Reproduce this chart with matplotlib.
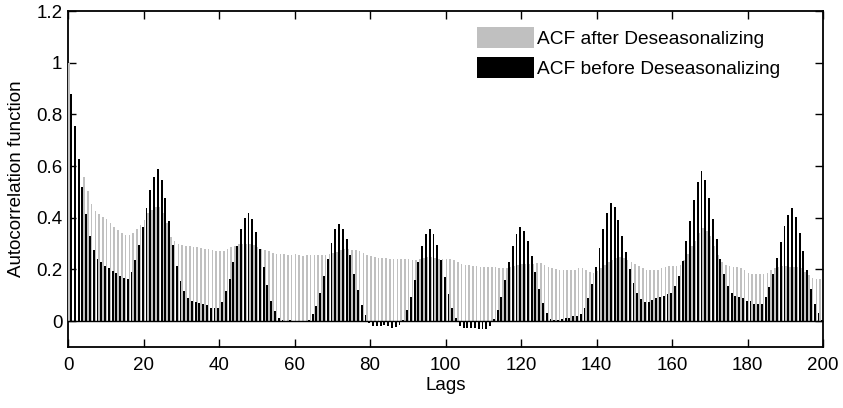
import numpy as np
import matplotlib
matplotlib.use("Agg")
import matplotlib.pyplot as plt
from matplotlib.ticker import FormatStrFormatter

nan = float('nan')

# ACF values, lags 0..200
acf_before = [
    1.0, 0.88, 0.757, 0.627, 0.518, 0.415, 0.329, 0.274, 0.24, 0.23,
    0.213, 0.207, 0.194, 0.186, 0.174, 0.166, 0.165, 0.192, 0.236, 0.294,
    0.365, 0.436, 0.507, 0.556, 0.587, 0.546, 0.475, 0.387, 0.294, 0.212,
    0.155, 0.116, 0.09, 0.077, 0.073, 0.072, 0.066, 0.061, 0.051, 0.05,
    0.05, 0.076, 0.116, 0.165, 0.23, 0.292, 0.355, 0.40, 0.42, 0.394,
    0.345, 0.28, 0.209, 0.138, 0.077, 0.04, 0.013, 0.006, 0.001, 0.006,
    0.0, 0.0, 0.0, 0.0, 0.006, 0.027, 0.06, 0.11, 0.175, 0.24,
    0.304, 0.355, 0.375, 0.356, 0.316, 0.257, 0.184, 0.12, 0.062, 0.022,
    -0.006, -0.017, -0.018, -0.018, -0.015, -0.018, -0.025, -0.022, -0.013, 0.006,
    0.045, 0.094, 0.159, 0.23, 0.29, 0.337, 0.358, 0.338, 0.294, 0.236,
    0.171, 0.104, 0.049, 0.011, -0.017, -0.025, -0.026, -0.026, -0.028, -0.03,
    -0.03, -0.029, -0.017, 0.008, 0.045, 0.094, 0.159, 0.23, 0.29, 0.339,
    0.365, 0.349, 0.311, 0.251, 0.191, 0.126, 0.072, 0.032, 0.01, 0.006,
    0.006, 0.008, 0.013, 0.013, 0.019, 0.02, 0.028, 0.05, 0.088, 0.143,
    0.209, 0.284, 0.358, 0.419, 0.458, 0.441, 0.392, 0.331, 0.267, 0.202,
    0.147, 0.11, 0.084, 0.076, 0.076, 0.081, 0.088, 0.094, 0.099, 0.104,
    0.11, 0.135, 0.174, 0.233, 0.309, 0.388, 0.468, 0.539, 0.582, 0.545,
    0.478, 0.397, 0.317, 0.24, 0.182, 0.137, 0.11, 0.099, 0.094, 0.088,
    0.079, 0.077, 0.067, 0.067, 0.067, 0.094, 0.133, 0.182, 0.246, 0.306,
    0.367, 0.409, 0.436, 0.404, 0.343, 0.273, 0.197, 0.126, 0.067, 0.03,
    0.006,
]

# lags 1-3 show no grey bar in the figure
acf_after = [
    1.0, nan, nan, nan, 0.558, 0.503, 0.453, 0.427, 0.415, 0.404,
    0.394, 0.378, 0.365, 0.352, 0.343, 0.333, 0.333, 0.34, 0.355, 0.372,
    0.39, 0.42, 0.43, 0.44, 0.44, 0.42, 0.38, 0.325, 0.31, 0.30,
    0.294, 0.292, 0.29, 0.288, 0.287, 0.284, 0.281, 0.279, 0.275, 0.272,
    0.27, 0.272, 0.279, 0.285, 0.29, 0.297, 0.30, 0.30, 0.298, 0.294,
    0.288, 0.281, 0.277, 0.27, 0.265, 0.26, 0.258, 0.258, 0.255, 0.257,
    0.258, 0.257, 0.253, 0.257, 0.257, 0.257, 0.255, 0.257, 0.257, 0.258,
    0.262, 0.266, 0.275, 0.281, 0.281, 0.277, 0.275, 0.27, 0.262, 0.255,
    0.251, 0.248, 0.246, 0.246, 0.246, 0.242, 0.24, 0.24, 0.24, 0.24,
    0.24, 0.236, 0.238, 0.242, 0.246, 0.249, 0.249, 0.246, 0.242, 0.242,
    0.242, 0.241, 0.238, 0.23, 0.223, 0.219, 0.219, 0.214, 0.213, 0.21,
    0.21, 0.21, 0.21, 0.21, 0.205, 0.204, 0.206, 0.21, 0.215, 0.219,
    0.22, 0.22, 0.22, 0.223, 0.226, 0.224, 0.217, 0.21, 0.204, 0.201,
    0.197, 0.197, 0.197, 0.197, 0.198, 0.204, 0.205, 0.198, 0.191, 0.188,
    0.195, 0.205, 0.217, 0.228, 0.236, 0.245, 0.249, 0.245, 0.238, 0.23,
    0.223, 0.213, 0.204, 0.197, 0.197, 0.197, 0.197, 0.204, 0.21, 0.213,
    0.213, 0.213, 0.219, 0.235, 0.26, 0.29, 0.31, 0.34, 0.36, 0.35,
    0.33, 0.29, 0.255, 0.228, 0.217, 0.213, 0.21, 0.21, 0.204, 0.197,
    0.188, 0.184, 0.182, 0.182, 0.184, 0.188, 0.197, 0.204, 0.21, 0.213,
    0.213, 0.211, 0.21, 0.21, 0.204, 0.191, 0.178, 0.168, 0.163, 0.165,
    0.168,
]

lags = np.arange(len(acf_before))

plt.rcParams['font.family'] = ['Liberation Sans', 'DejaVu Sans']
plt.rcParams['font.size'] = 13.5

fig = plt.figure(figsize=(8.43, 4.08), dpi=100)
ax = fig.add_axes([0.0807, 0.1495, 0.8956, 0.8235])

ax.bar(lags + 0.24, acf_after, width=0.42, color='#c0c0c0',
       label='ACF after Deseasonalizing', zorder=3)
ax.bar(lags - 0.2, acf_before, width=0.5, color='black',
       label='ACF before Deseasonalizing', zorder=3)
ax.axhline(0, color='black', lw=1.0, zorder=4)

ax.set_xlim(0, 200)
ax.set_ylim(-0.1, 1.2)
ax.set_xticks(np.arange(0, 201, 20))
ax.set_yticks([0, 0.2, 0.4, 0.6, 0.8, 1.0, 1.2])
ax.yaxis.set_major_formatter(FormatStrFormatter('%g'))
ax.tick_params(direction='in', length=6, width=1, top=True, right=True)
ax.tick_params(axis='y', pad=4)
ax.tick_params(axis='x', pad=7)
for s in ax.spines.values():
    s.set_linewidth(1.3)

ax.set_xlabel('Lags', labelpad=2)
ax.set_ylabel('Autocorrelation function', labelpad=8)

ax.legend(loc='upper left', bbox_to_anchor=(0.542, 0.951), frameon=False,
          handlelength=2.95, handleheight=1.3, handletextpad=0.18,
          labelspacing=0.45, borderpad=0, borderaxespad=0, fontsize=13.8)

fig.savefig('out.png', dpi=100)
